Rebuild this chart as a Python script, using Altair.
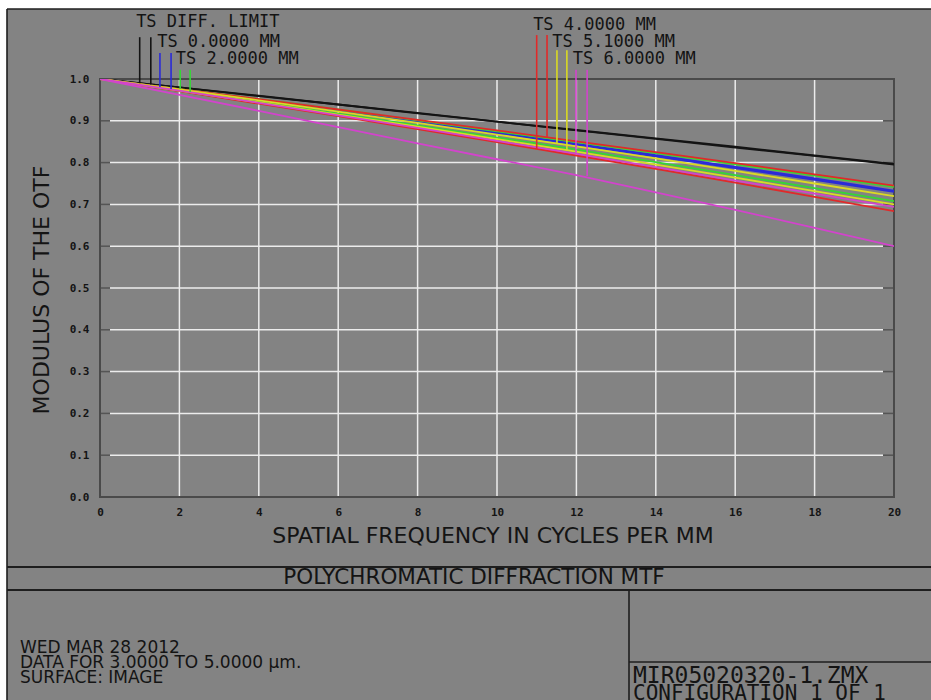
import altair as alt
import pandas as pd

# ---------------- data ----------------
freq = [0, 2, 4, 6, 8, 10, 12, 14, 16, 18, 20]

mtf_diff_t = [1.000, 0.980, 0.960, 0.939, 0.919, 0.898, 0.878, 0.858, 0.838, 0.817, 0.797]
mtf_diff_s = [1.000, 0.980, 0.959, 0.939, 0.918, 0.898, 0.877, 0.857, 0.836, 0.816, 0.795]
mtf_0_t = [1.000, 0.975, 0.950, 0.924, 0.898, 0.872, 0.845, 0.818, 0.790, 0.762, 0.733]
mtf_0_s = [1.000, 0.975, 0.949, 0.923, 0.897, 0.870, 0.843, 0.815, 0.787, 0.759, 0.730]
mtf_2_t = [1.000, 0.976, 0.952, 0.927, 0.901, 0.875, 0.849, 0.823, 0.796, 0.769, 0.742]
mtf_2_s = [1.000, 0.973, 0.945, 0.917, 0.889, 0.860, 0.831, 0.801, 0.770, 0.739, 0.708]
mtf_4_t = [1.000, 0.971, 0.941, 0.911, 0.880, 0.849, 0.817, 0.785, 0.752, 0.718, 0.684]
mtf_4_s = [1.000, 0.976, 0.952, 0.927, 0.902, 0.877, 0.851, 0.825, 0.799, 0.772, 0.745]
mtf_51_t = [1.000, 0.975, 0.949, 0.922, 0.895, 0.867, 0.839, 0.810, 0.780, 0.750, 0.720]
mtf_51_s = [1.000, 0.972, 0.944, 0.915, 0.886, 0.856, 0.826, 0.795, 0.764, 0.732, 0.700]
mtf_6_t = [1.000, 0.972, 0.943, 0.913, 0.883, 0.852, 0.821, 0.789, 0.757, 0.726, 0.694]
mtf_6_s = [1.000, 0.962, 0.924, 0.885, 0.846, 0.808, 0.770, 0.729, 0.687, 0.644, 0.600]

series_names = ["DIFF T", "DIFF S", "0.0 T", "0.0 S", "2.0 T", "2.0 S",
                "4.0 T", "4.0 S", "5.1 T", "5.1 S", "6.0 T", "6.0 S"]
series_values = [mtf_diff_t, mtf_diff_s, mtf_0_t, mtf_0_s, mtf_2_t, mtf_2_s,
                 mtf_4_t, mtf_4_s, mtf_51_t, mtf_51_s, mtf_6_t, mtf_6_s]
series_colors = ["#141414", "#141414", "#2a2ad8", "#2a2ad8", "#34d834", "#34d834",
                 "#e02a2a", "#e02a2a", "#dada24", "#dada24", "#d244cc", "#d244cc"]

# legend (key) texts and their marker lines
legend_labels = ["TS DIFF. LIMIT", "TS 0.0000 MM", "TS 2.0000 MM",
                 "TS 4.0000 MM", "TS 5.1000 MM", "TS 6.0000 MM"]
legend_label_x = [0.91, 1.44, 1.91, 10.91, 11.39, 11.91]
legend_label_y = [1.136, 1.089, 1.048, 1.129, 1.089, 1.048]

key_x = [1.00, 1.28, 1.51, 1.79, 2.02, 2.27, 11.00, 11.26, 11.51, 11.76, 11.99, 12.27]
key_top = [1.100, 1.100, 1.062, 1.062, 1.022, 1.022, 1.105, 1.105, 1.069, 1.069, 1.022, 1.022]
key_bottom = [0.990, 0.987, 0.981, 0.976, 0.976, 0.969, 0.833, 0.862, 0.846, 0.830, 0.821, 0.768]
key_series = series_names

x_ticks = [0, 2, 4, 6, 8, 10, 12, 14, 16, 18, 20]
y_ticks = [0.0, 0.1, 0.2, 0.3, 0.4, 0.5, 0.6, 0.7, 0.8, 0.9, 1.0]
x_grid = [2, 4, 6, 8, 10, 12, 14, 16, 18]
y_grid = [0.1, 0.2, 0.3, 0.4, 0.5, 0.6, 0.7, 0.8, 0.9]

# ---------------- tables ----------------
rows = []
for name, vals in zip(series_names, series_values):
    for f, v in zip(freq, vals):
        rows.append({"freq": f, "mtf": v, "series": name})
curves = pd.DataFrame(rows)
legend_df = pd.DataFrame({"label": legend_labels, "lx": legend_label_x, "ly": legend_label_y})
key_df = pd.DataFrame({"kx": key_x, "ktop": key_top, "kbot": key_bottom, "series": key_series})
xgrid_df = pd.DataFrame({"g": x_grid})
ygrid_df = pd.DataFrame({"g": y_grid})

BG = "#838383"
INK = "#141414"
OX, OY = 100, 79  # plot origin in page pixels
W, H = 794, 418

xs = alt.Scale(domain=[0, 20], nice=False, zero=False)
ys = alt.Scale(domain=[0, 1], nice=False, zero=False)
cs = alt.Scale(domain=series_names, range=series_colors)

XAXIS = alt.Axis(values=x_ticks, format="d", grid=False, ticks=False, domain=False,
                 labelFont="DejaVu Sans Mono", labelFontWeight="bold", labelFontSize=11,
                 labelColor=INK, labelPadding=9, labelFlush=False, title=None)
YAXIS = alt.Axis(values=y_ticks, format=".1f", grid=False, ticks=False, domain=False,
                 labelFont="DejaVu Sans Mono", labelFontWeight="bold", labelFontSize=11,
                 labelColor=INK, labelPadding=11, labelFlush=False, title=None)


def px(v):
    return alt.value(v - OX)


def py(v):
    return alt.value(v - OY)


def text(t, x, y, size, font, align="left", angle=0, weight="normal"):
    return alt.Chart(pd.DataFrame({"t": [t]})).mark_text(
        align=align, baseline="middle", fontSize=size, font=font, angle=angle,
        fontWeight=weight, color=INK
    ).encode(x=px(x), y=py(y), text="t:N")


def hline(y, x1, x2, w=1.6, color="#1e1e1e"):
    return alt.Chart(pd.DataFrame({"a": [0]})).mark_rule(color=color, strokeWidth=w).encode(
        x=px(x1), x2=px(x2), y=py(y))


def vline(x, y1, y2, w=1.6, color="#1e1e1e"):
    return alt.Chart(pd.DataFrame({"a": [0]})).mark_rule(color=color, strokeWidth=w).encode(
        x=px(x), y=py(y1), y2=py(y2))


def box(x1, y1, x2, y2, fill):
    return alt.Chart(pd.DataFrame({"a": [0]})).mark_rect(fill=fill).encode(
        x=px(x1), x2=px(x2), y=py(y1), y2=py(y2))


# ---------------- page frame ----------------
frame = [
    box(0, 0, 931, 9, "white"),
    box(0, 0, 7, 700, "white"),
    hline(9, 7, 931),
    vline(7, 9, 700),
    hline(567, 7, 931, 2.2),
    hline(590, 7, 931, 2.0),
    vline(629, 590, 700),
    hline(662, 629, 931),
]

# ---------------- plot ----------------
vgrid = alt.Chart(xgrid_df).mark_rule(color="#ececec", strokeWidth=1.5).encode(
    x=alt.X("g:Q", scale=xs, axis=XAXIS), y=alt.value(0), y2=alt.value(H))
hgrid = alt.Chart(ygrid_df).mark_rule(color="#ececec", strokeWidth=1.5).encode(
    y=alt.Y("g:Q", scale=ys, axis=YAXIS), x=alt.value(10), x2=alt.value(W - 11))
ltick = alt.Chart(ygrid_df).mark_rule(color="#555555", strokeWidth=1.5).encode(
    y=alt.Y("g:Q", scale=ys, axis=YAXIS), x=alt.value(0), x2=alt.value(10))
rtick = alt.Chart(ygrid_df).mark_rule(color="#555555", strokeWidth=1.5).encode(
    y=alt.Y("g:Q", scale=ys, axis=YAXIS), x=alt.value(W - 11), x2=alt.value(W))

border = alt.Chart(pd.DataFrame({"a": [0]})).mark_rect(
    fill=None, stroke="#4a4a4a", strokeWidth=2).encode(
    x=alt.value(0), x2=alt.value(W), y=alt.value(0), y2=alt.value(H))

lines = alt.Chart(curves).mark_line(strokeWidth=1.8, clip=True).encode(
    x=alt.X("freq:Q", scale=xs, axis=XAXIS),
    y=alt.Y("mtf:Q", scale=ys, axis=YAXIS),
    color=alt.Color("series:N", scale=cs, legend=None),
    order=alt.Order("freq:Q"),
)

keys = alt.Chart(key_df).mark_rule(strokeWidth=1.6).encode(
    x=alt.X("kx:Q", scale=xs, axis=XAXIS),
    y=alt.Y("ktop:Q", scale=ys, axis=YAXIS),
    y2="kbot:Q",
    color=alt.Color("series:N", scale=cs, legend=None),
)

key_text = alt.Chart(legend_df).mark_text(
    align="left", baseline="middle", font="DejaVu Sans Mono", fontSize=17, color=INK
).encode(
    x=alt.X("lx:Q", scale=xs, axis=XAXIS),
    y=alt.Y("ly:Q", scale=ys, axis=YAXIS),
    text="label:N",
)

# ---------------- texts ----------------
texts = [
    text("SPATIAL FREQUENCY IN CYCLES PER MM", 493, 536, 22, "DejaVu Sans", align="center"),
    text("MODULUS OF THE OTF", 42, 290, 22, "DejaVu Sans", align="center", angle=270),
    text("POLYCHROMATIC DIFFRACTION MTF", 474, 578, 21.5, "DejaVu Sans", align="center"),
    text("WED MAR 28 2012", 20, 648, 17, "DejaVu Sans"),
    text("DATA FOR 3.0000 TO 5.0000 μm.", 20, 663, 17, "DejaVu Sans"),
    text("SURFACE: IMAGE", 20, 678, 17, "DejaVu Sans"),
    text("MIR05020320-1.ZMX", 633, 676, 23, "DejaVu Sans Mono"),
    text("CONFIGURATION 1 OF 1", 633, 694, 21, "DejaVu Sans Mono"),
]

chart = alt.layer(
    *frame, vgrid, hgrid, ltick, rtick, border, lines, keys, key_text, *texts
).properties(
    width=W, height=H,
    padding={"left": OX, "top": OY, "right": 931 - OX - W, "bottom": 700 - OY - H},
    autosize=alt.AutoSizeParams(type="none"),
    background=BG,
).configure_view(stroke=None, fill=BG)

chart.save("out.html", embed_options={"renderer": "svg", "actions": False})
